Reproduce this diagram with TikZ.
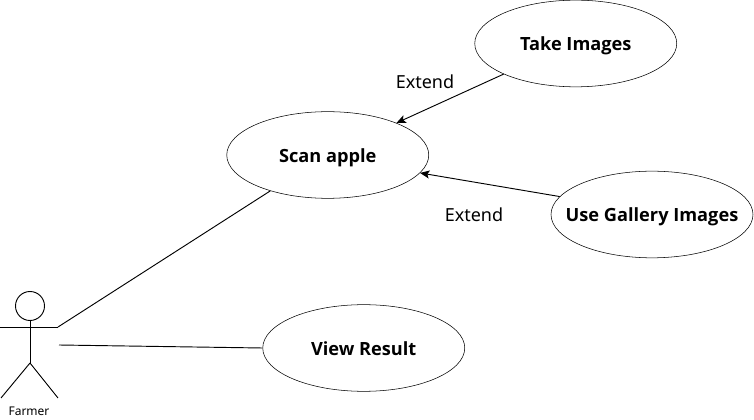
\documentclass[tikz,border=0pt]{standalone}
\usepackage{fontspec}
\setmainfont{Noto Sans}[BoldFont={Open Sans Bold}]
\usetikzlibrary{arrows.meta, shapes.geometric}

\begin{document}
\begin{tikzpicture}[
			x=0.75pt, y=-0.75pt,
			% Styles
			usecase/.style={draw=black, fill=white, ellipse, inner sep=0pt, minimum width=151.5pt, minimum height=65pt, text depth=0pt, text height=10.75pt, font=\fontsize{13.65pt}{16pt}\selectfont\bfseries},
			etiquette/.style={font=\fontsize{13.5pt}{16pt}\selectfont},
			lien/.style={draw=black, line width=0.7pt},
			fleche/.style={lien, -{Stealth[length=7pt, width=6pt, inset=1.5pt]}},
			]
			\useasboundingbox (0, 0) rectangle (754, 420);

			\node[usecase] (take) at (575.75, 43.5) {Take Images};
			\node[usecase] (scan) at (327.75, 155) {Scan apple};
			\node[usecase] (gallery) at (652, 214.5) {\makebox[0pt]{Use Gallery Images}};
			\node[usecase] (view) at (363.75, 348) {View Result};

			\node[etiquette] (extendA) at (425, 82) {Extend};
			\node[etiquette] (extendB) at (474, 215) {Extend};

			% Farmer
			\node[draw=black, circle, inner sep=0pt, minimum size=21.75pt, line width=0.7pt] (head) at (30, 306) {};
			\coordinate (hip) at (30, 363);
			\coordinate (armL) at (0, 327);
			\coordinate (armR) at (58, 327);
			\coordinate (legL) at (1, 398);
			\coordinate (legR) at (58, 398);
			\coordinate (start) at (59, 345);
			\node[font=\fontsize{9pt}{11pt}\selectfont] (farmer) at (29, 411.5) {Farmer};

			\draw[lien] (head.south) -- (hip);
			\draw[lien] (armL) -- (armR);
			\draw[lien] (legL) -- (hip);
			\draw[lien] (hip) -- (legR);

			\draw[lien] (armR) -- (scan.212.7);
			\draw[lien] (start) -- (view.west);
			\draw[fleche] (take.203.3) -- (scan.25.5);
			\draw[fleche] (gallery.169.5) -- (scan.-11);
		\end{tikzpicture}
\end{document}
